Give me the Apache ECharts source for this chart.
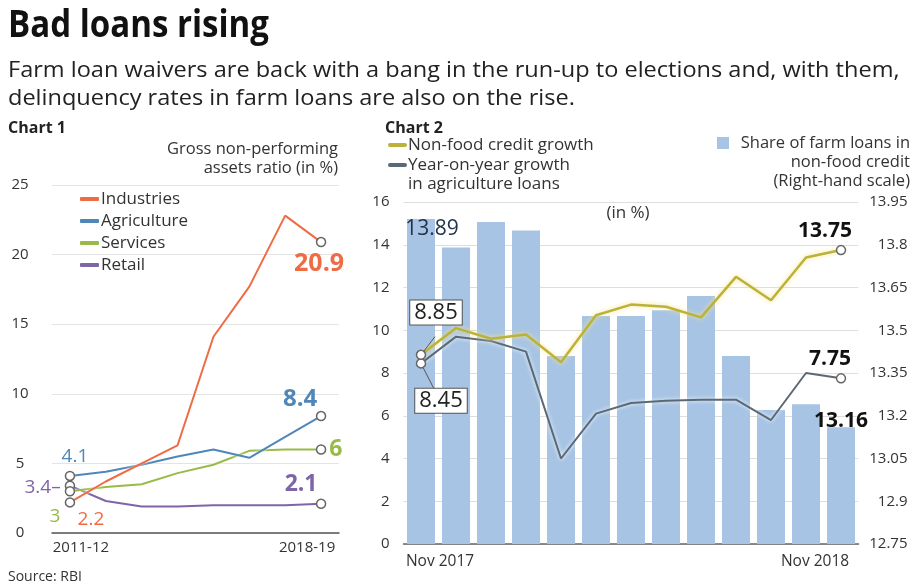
<!DOCTYPE html>
<html>
<head>
<meta charset="utf-8">
<title>Bad loans rising</title>
<script src="https://cdn.jsdelivr.net/npm/echarts@6/dist/echarts.min.js"></script>
<style>
  html, body { margin: 0; padding: 0; background: #fff; }
  #chart { width: 915px; height: 586px; }
</style>
</head>
<body>
<div id="chart"></div>
<script>
// Chart 1: gross NPA ratio (in %)
const years = ['2011-12', '2012-13', '2013-14', '2014-15', '2015-16', '2016-17', '2017-18', '2018-19']
const industries = [2.2, 3.7, 5.0, 6.3, 14.1, 17.7, 22.8, 20.9]
const agriculture = [4.1, 4.4, 4.9, 5.5, 6.0, 5.4, 6.9, 8.4]
const services = [3.0, 3.3, 3.5, 4.3, 4.9, 5.9, 6.0, 6.0]
const retail = [3.4, 2.3, 1.9, 1.9, 2.0, 2.0, 2.0, 2.1]

// Chart 2: monthly growth (left, in %) and farm share (right scale)
const months = ['Nov 2017', 'Dec 2017', 'Jan 2018', 'Feb 2018', 'Mar 2018', 'Apr 2018', 'May 2018',
  'Jun 2018', 'Jul 2018', 'Aug 2018', 'Sep 2018', 'Oct 2018', 'Nov 2018']
const nonFoodGrowth = [8.85, 10.1, 9.6, 9.8, 8.5, 10.7, 11.2, 11.1, 10.6, 12.5, 11.4, 13.4, 13.75]
const agriGrowth = [8.45, 9.7, 9.5, 9.0, 4.0, 6.1, 6.6, 6.7, 6.75, 6.75, 5.8, 8.0, 7.75]
const farmShare = [13.89, 13.79, 13.88, 13.85, 13.41, 13.55, 13.55, 13.57, 13.62, 13.41, 13.22, 13.24, 13.16]

const FONT = '"Open Sans", "Noto Sans", sans-serif'
const C = {
  ind: '#ef6b44',
  agr: '#4f87b8',
  ser: '#98bb47',
  ret: '#7e65a8',
  nonfood: '#bcb23a',
  agri2: '#5b6976',
  bar: '#a7c4e4'
}

const dot = { color: '#fff', borderColor: '#666', borderWidth: 1.5 }
const pointer = { show: true, lineStyle: { color: '#555', width: 1 } }

// only first and last points get a circle + label
function endPoints(values, firstLabel, lastLabel, firstPointer) {
  const last = values.length - 1
  return values.map((v, i) => {
    if (i === 0) {
      return { value: v, symbol: 'circle', itemStyle: dot, label: firstLabel, labelLine: firstPointer || { show: false } }
    }
    if (i === last) {
      return { value: v, symbol: 'circle', itemStyle: dot, label: lastLabel, labelLine: { show: false } }
    }
    return { value: v, symbol: 'none' }
  })
}

function lbl(color, size, bold, extra) {
  return Object.assign({
    show: true, color: color, fontSize: size, fontFamily: FONT,
    fontWeight: bold ? 'bold' : 'normal'
  }, extra)
}

function line1(name, values, color, firstLabel, lastLabel) {
  return {
    name: name,
    type: 'line',
    xAxisIndex: 0,
    yAxisIndex: 0,
    data: endPoints(values, firstLabel, lastLabel),
    symbol: 'circle',
    symbolSize: 9,
    color: color,
    lineStyle: { color: color, width: 2, shadowColor: 'rgba(255,255,255,0.9)', shadowBlur: 3 },
    z: 3
  }
}

const option = {
  animation: false,
  textStyle: { fontFamily: FONT },
  grid: [
    { left: 52, top: 185, width: 287, height: 348 },
    { left: 403.5, top: 202, width: 455, height: 342 }
  ],
  xAxis: [
    {
      gridIndex: 0,
      type: 'category',
      data: years,
      axisTick: { show: false },
      axisLine: { lineStyle: { color: '#555', width: 1.5 } },
      axisLabel: {
        interval: (i) => i === 0 || i === years.length - 1,
        margin: 7,
        formatter: (v, i) => (i === 0 ? '{a|' + v + '}' : '{b|' + v + '}'),
        rich: {
          a: { fontSize: 15, color: '#333', padding: [0, 0, 0, 22] },
          b: { fontSize: 15, color: '#333', padding: [0, 28, 0, 0] }
        }
      }
    },
    {
      gridIndex: 1,
      type: 'category',
      data: months,
      axisTick: { show: false },
      axisLine: { lineStyle: { color: '#666', width: 1.5 } },
      axisLabel: {
        interval: (i) => i === 0 || i === months.length - 1,
        margin: 10,
        formatter: (v, i) => (i === 0 ? '{a|' + v + '}' : '{b|' + v + '}'),
        rich: {
          a: { fontSize: 15.5, color: '#333', padding: [0, 0, 0, 38] },
          b: { fontSize: 15.5, color: '#333', padding: [0, 52, 0, 0] }
        }
      }
    }
  ],
  yAxis: [
    {
      gridIndex: 0,
      type: 'value',
      min: 0,
      max: 25,
      interval: 5,
      axisLine: { show: false },
      axisTick: { show: false },
      axisLabel: { fontSize: 15, color: '#333', align: 'center', margin: 32 },
      splitLine: { lineStyle: { color: '#e4e4e4' } }
    },
    {
      gridIndex: 1,
      type: 'value',
      min: 0,
      max: 16,
      interval: 2,
      axisLine: { show: false },
      axisTick: { show: false },
      axisLabel: { fontSize: 15, color: '#333', margin: 14 },
      splitLine: { lineStyle: { color: '#dedede' } }
    },
    {
      gridIndex: 1,
      type: 'value',
      position: 'right',
      min: 12.75,
      max: 13.95,
      interval: 0.15,
      axisLine: { show: false },
      axisTick: { show: false },
      axisLabel: { fontSize: 15, color: '#333', align: 'right', margin: 49 },
      splitLine: { show: false }
    }
  ],
  legend: {
    data: ['Industries', 'Agriculture', 'Services', 'Retail'],
    orient: 'vertical',
    left: 75,
    top: 185,
    icon: 'roundRect',
    itemWidth: 19,
    itemHeight: 4,
    itemGap: 4,
    textStyle: { fontSize: 17, color: '#333', lineHeight: 18, padding: [0, 0, 0, -3] }
  },
  series: [
    line1('Retail', retail, C.ret,
      lbl(C.ret, 19, false, { position: 'left', distance: 2, offset: [-2, 2], formatter: '{c}–' }),
      lbl(C.ret, 23, true, { position: 'top', offset: [-20, 2] })),
    line1('Services', services, C.ser,
      lbl(C.ser, 19, false, { position: 'bottom', offset: [-15, 6], formatter: (p) => String(Math.round(p.value)) }),
      lbl(C.ser, 23, true, { position: 'right', distance: 3, formatter: (p) => String(Math.round(p.value)) })),
    line1('Agriculture', agriculture, C.agr,
      lbl(C.agr, 19, false, { position: 'top', offset: [5, 0] }),
      lbl(C.agr, 24, true, { position: 'top', offset: [-21, 5] })),
    line1('Industries', industries, C.ind,
      lbl(C.ind, 19, false, { position: 'bottom', offset: [21, -3] }),
      lbl(C.ind, 25, true, { position: 'bottom', offset: [-2, -1] })),

    {
      name: 'Share of farm loans in non-food credit',
      type: 'bar',
      xAxisIndex: 1,
      yAxisIndex: 2,
      barWidth: 28,
      itemStyle: { color: C.bar },
      data: farmShare.map((v, i) => {
        if (i === 0) {
          return { value: v, label: lbl('#22344c', 21, false, { position: 'insideTop', offset: [11, -6] }) }
        }
        if (i === farmShare.length - 1) {
          return { value: v, label: lbl('#111', 21, true, { position: 'top', distance: 0, offset: [0, 4] }) }
        }
        return v
      }),
      z: 1
    },
    {
      name: 'Year-on-year growth in agriculture loans',
      type: 'line',
      xAxisIndex: 1,
      yAxisIndex: 1,
      symbolSize: 9,
      color: C.agri2,
      lineStyle: { color: C.agri2, width: 2, shadowColor: 'rgba(255,255,255,1)', shadowBlur: 4 },
      data: endPoints(agriGrowth,
        lbl('#222', 22, false, {
          position: 'bottom', offset: [20, 15],
          backgroundColor: '#fff', borderColor: '#555', borderWidth: 1, padding: [1, 4]
        }),
        lbl('#111', 21, true, { position: 'top', offset: [-11, 1] }),
        pointer),
      z: 4
    },
    {
      name: 'Non-food credit growth',
      type: 'line',
      xAxisIndex: 1,
      yAxisIndex: 1,
      symbolSize: 9,
      color: C.nonfood,
      lineStyle: { color: C.nonfood, width: 2.5, shadowColor: '#f4e48e', shadowBlur: 5 },
      data: endPoints(nonFoodGrowth,
        lbl('#222', 22, false, {
          position: 'top', offset: [15, -20],
          backgroundColor: '#fff', borderColor: '#555', borderWidth: 1, padding: [1, 4]
        }),
        lbl('#111', 21, true, { position: 'top', offset: [-16, 2] }),
        pointer),
      z: 5
    }
  ],
  graphic: [
    {
      type: 'text', x: 8, y: 7, scaleX: 0.87,
      style: { text: 'Bad loans rising', font: 'bold 38px ' + FONT, fill: '#111' }
    },
    {
      type: 'text', x: 8, y: 57, scaleX: 1.07,
      style: {
        text: 'Farm loan waivers are back with a bang in the run-up to elections and, with them,\ndelinquency rates in farm loans are also on the rise.',
        font: '22px ' + FONT, fill: '#222', lineHeight: 28
      }
    },
    { type: 'text', x: 8, y: 128, style: { text: 'Chart 1', font: 'bold 16px ' + FONT, fill: '#222', verticalAlign: 'middle' } },
    { type: 'text', x: 385, y: 128, style: { text: 'Chart 2', font: 'bold 16px ' + FONT, fill: '#222', verticalAlign: 'middle' } },
    {
      type: 'text', x: 338, y: 140,
      style: { text: 'Gross non-performing\nassets ratio (in %)', font: '16.5px ' + FONT, fill: '#333', align: 'right', lineHeight: 19 }
    },
    { type: 'text', x: 628, y: 213, style: { text: '(in %)', font: '17px ' + FONT, fill: '#333', align: 'center', verticalAlign: 'middle' } },
    { type: 'text', x: 8, y: 577, style: { text: 'Source: RBI', font: '14px ' + FONT, fill: '#333', verticalAlign: 'middle' } },

    // chart 2 legend
    { type: 'rect', shape: { x: 388, y: 143, width: 19, height: 4, r: 2 }, style: { fill: C.nonfood } },
    { type: 'text', x: 408, y: 145, style: { text: 'Non-food credit growth', font: '17px ' + FONT, fill: '#333', verticalAlign: 'middle' } },
    { type: 'rect', shape: { x: 388, y: 163, width: 19, height: 4, r: 2 }, style: { fill: C.agri2 } },
    {
      type: 'text', x: 408, y: 155.5,
      style: { text: 'Year-on-year growth\nin agriculture loans', font: '17px ' + FONT, fill: '#333', lineHeight: 19 }
    },
    { type: 'rect', shape: { x: 717, y: 137, width: 12, height: 12 }, style: { fill: C.bar } },
    {
      type: 'text', x: 910, y: 133.5,
      style: { text: 'Share of farm loans in\nnon-food credit\n(Right-hand scale)', font: '16.5px ' + FONT, fill: '#333', align: 'right', lineHeight: 19 }
    }
  ]
}

const chart = echarts.init(document.getElementById('chart'))
chart.setOption(option)
</script>
</body>
</html>
